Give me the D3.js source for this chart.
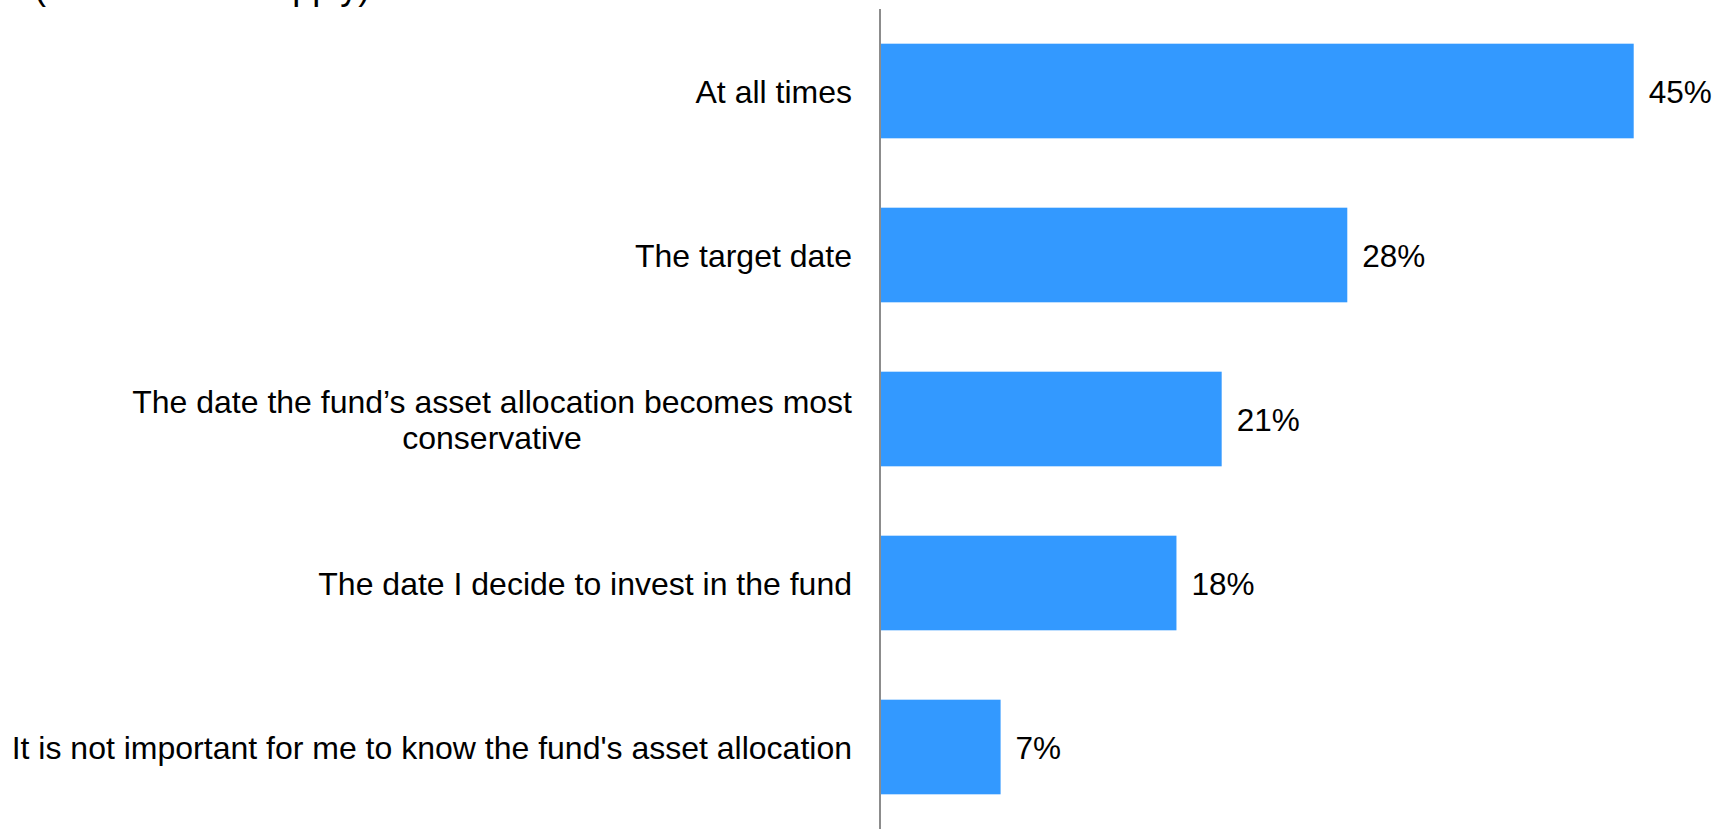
<!DOCTYPE html>
<html>
<head>
<meta charset="utf-8">
<script src="https://cdn.jsdelivr.net/npm/d3@7"></script>
<style>
    html, body { margin: 0; padding: 0; background: #ffffff; overflow: hidden; }
    svg { display: block; font-family: "Liberation Sans", Arial, sans-serif; }
</style>
</head>
<body>
<div id="chart"></div>
<script>
// Chart data
const categories = [
    ["At all times"],
    ["The target date"],
    ["The date the fund\u2019s asset allocation becomes most", "conservative"],
    ["The date I decide to invest in the fund"],
    ["It is not important for me to know the fund's asset allocation"]
];
const values = [45, 27.9, 20.4, 17.7, 7.2];
const valueLabels = ["45%", "28%", "21%", "18%", "7%"];
const subtitle = "(Select all that apply)";

const width = 1728;
const height = 829;

const svg = d3.select("#chart")
    .append("svg")
    .attr("width", width)
    .attr("height", height);

// Scales
const y = d3.scaleBand()
    .domain(d3.range(categories.length))
    .range([9, 829])
    .paddingInner(0.423)
    .paddingOuter(0.2115);

const x = d3.scaleLinear()
    .domain([0, 45])
    .range([880, 1633.7]);

// Subtitle, mostly cut off at the top edge
svg.append("text")
    .attr("x", 34)
    .attr("y", -1.5)
    .style("font-size", "36px")
    .style("fill", "#000")
    .text(subtitle);

// Bars
svg.selectAll(".bar")
    .data(values)
    .enter().append("rect")
        .attr("class", "bar")
        .attr("x", x(0))
        .attr("y", (d, i) => y(i))
        .attr("width", d => x(d) - x(0))
        .attr("height", y.bandwidth())
        .style("fill", "#3399FF");

// Vertical axis line
svg.append("line")
    .attr("x1", x(0))
    .attr("x2", x(0))
    .attr("y1", y.range()[0])
    .attr("y2", y.range()[1])
    .style("stroke", "#8c8c8c")
    .style("stroke-width", 2);

// Category labels: block right aligned to the axis, lines centred in the block
const lineHeight = 36;
const labelRight = x(0) - 28;
svg.selectAll(".cat-label")
    .data(categories)
    .enter().append("text")
        .attr("class", "cat-label")
        .style("font-size", "32px")
        .style("fill", "#000")
        .each(function(lines, i) {
            const cy = y(i) + y.bandwidth() / 2;
            const first = cy + 11.5 - (lines.length - 1) * lineHeight / 2;
            const t = d3.select(this);
            const spans = lines.map((ln, k) => t.append("tspan")
                .attr("y", first + k * lineHeight)
                .text(ln));
            const maxW = d3.max(spans, s => s.node().getComputedTextLength());
            spans.forEach(s => s
                .attr("text-anchor", "middle")
                .attr("x", labelRight - maxW / 2));
        });

// Value labels
svg.selectAll(".value-label")
    .data(values)
    .enter().append("text")
        .attr("class", "value-label")
        .attr("x", d => x(d) + 15)
        .attr("y", (d, i) => y(i) + y.bandwidth() / 2 + 11.5)
        .style("font-size", "31.5px")
        .style("fill", "#000")
        .text((d, i) => valueLabels[i]);
</script>
</body>
</html>
